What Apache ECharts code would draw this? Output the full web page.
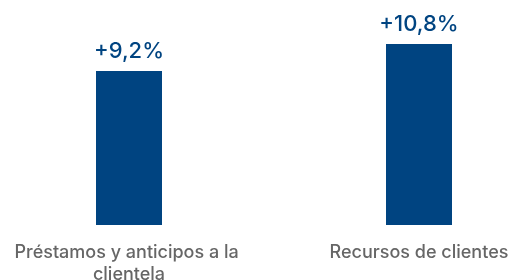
<!DOCTYPE html>
<html>
<head>
<meta charset="utf-8">
<script src="https://cdn.jsdelivr.net/npm/echarts@6/dist/echarts.min.js"></script>
<style>
  html, body { margin: 0; padding: 0; background: #fff; }
  #main { width: 509px; height: 280px; }
</style>
</head>
<body>
<div id="main"></div>
<script>
// categorías y variación interanual (%)
var categories = ['Préstamos y anticipos a la clientela', 'Recursos de clientes'];
var values = [9.2, 10.8];

var myChart = echarts.init(document.getElementById('main'));

var option = {
    animation: false,
    grid: {
        left: -16,
        right: -55,
        top: 24,
        bottom: 55,
        outerBoundsMode: 'none'
    },
    xAxis: {
        type: 'category',
        data: categories,
        axisLine: { show: false },
        axisTick: { show: false },
        axisLabel: {
            color: '#666666',
            fontFamily: 'Inter',
            fontWeight: 500,
            fontSize: 18,
            lineHeight: 22,
            margin: 17,
            width: 255,
            overflow: 'break',
            interval: 0
        }
    },
    yAxis: {
        type: 'value',
        min: 0,
        max: 12,
        show: false
    },
    series: [{
        type: 'bar',
        data: values,
        barWidth: 66,
        itemStyle: { color: '#004481' },
        label: {
            show: true,
            position: 'top',
            distance: 9,
            color: '#004481',
            fontFamily: 'Inter',
            fontWeight: 500,
            fontSize: 22,
            formatter: function (p) {
                return '+' + p.value.toFixed(1).replace('.', ',') + '%';
            }
        }
    }]
};

myChart.setOption(option);
</script>
</body>
</html>
